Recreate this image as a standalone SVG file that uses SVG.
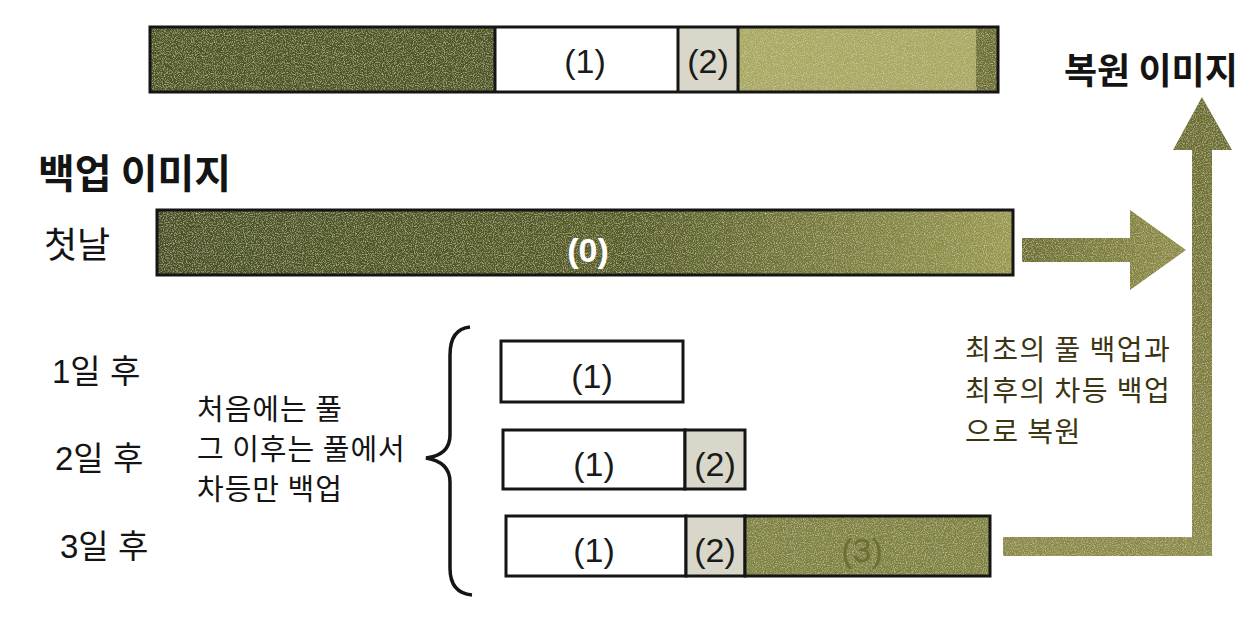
<svg xmlns="http://www.w3.org/2000/svg" width="1248" height="640" viewBox="0 0 1248 640">
<style>
.t{font-family:"Liberation Sans","Noto Sans CJK KR",sans-serif;fill:#141414}
.k{font-family:"Noto Sans CJK KR","Liberation Sans",sans-serif;fill:#141414}
.b{font-weight:bold}
.n{font-family:"Liberation Sans",sans-serif;font-size:34px;text-anchor:middle;fill:#1a1a1a}
.box{stroke:#151515;stroke-width:3}
.olive{font-family:"Noto Sans CJK KR",sans-serif;font-size:28px;fill:#3b3512;letter-spacing:1.5px}
.note{font-family:"Noto Sans CJK KR",sans-serif;font-size:29px;fill:#141414;letter-spacing:1px}
</style>
<defs>
<linearGradient id="gMid" x1="0" y1="0" x2="1" y2="0">
<stop offset="0" stop-color="#4a5020"/>
<stop offset="0.55" stop-color="#555b24"/>
<stop offset="1" stop-color="#999950"/>
</linearGradient>
<linearGradient id="gArr" x1="0" y1="0" x2="1" y2="0">
<stop offset="0" stop-color="#6d6e30"/>
<stop offset="1" stop-color="#8e8c48"/>
</linearGradient>
<linearGradient id="gUp" x1="0" y1="1" x2="0" y2="0">
<stop offset="0" stop-color="#8c8a48"/>
<stop offset="1" stop-color="#6a6b2e"/>
</linearGradient>
<filter id="grain" x="0" y="0" width="100%" height="100%">
<feTurbulence type="fractalNoise" baseFrequency="0.9" numOctaves="2" seed="3" result="n"/>
<feColorMatrix in="n" type="matrix" values="0 0 0 0 0.85  0 0 0 0 0.85  0 0 0 0 0.6  0 0 0 1.2 -0.55" result="s"/>
<feComposite in="s" in2="SourceGraphic" operator="in" result="m"/>
<feMerge><feMergeNode in="SourceGraphic"/><feMergeNode in="m"/></feMerge>
</filter>
</defs>

<g id="restore-bar">
<rect x="150" y="27" width="345" height="65" fill="#4f5423" filter="url(#grain)"/>
<rect x="495" y="27" width="183" height="65" fill="#ffffff"/>
<rect x="678" y="27" width="60" height="65" fill="#d9d7c9"/>
<rect x="738" y="27" width="238" height="65" fill="#a9a862" filter="url(#grain)"/>
<rect x="976" y="27" width="22" height="65" fill="#6d6f32" filter="url(#grain)"/>
<rect x="150" y="27" width="848" height="65" fill="none" class="box"/>
<line x1="495" y1="27" x2="495" y2="92" class="box"/>
<line x1="678" y1="27" x2="678" y2="92" class="box"/>
<line x1="738" y1="27" x2="738" y2="92" class="box"/>
<text x="585" y="73" class="n">(1)</text>
<text x="708" y="73" class="n">(2)</text>
</g>

<g id="restore-title">
<text x="1064" y="84" class="k b" font-size="36">복원 이미지</text>
</g>

<g id="backup-title">
<text x="38" y="188" class="k b" font-size="40">백업 이미지</text>
</g>

<g id="day0">
<text x="44" y="258" class="k" font-size="36">첫날</text>
<rect x="157" y="210" width="856" height="65" fill="url(#gMid)" filter="url(#grain)"/>
<rect x="157" y="210" width="856" height="65" fill="none" class="box"/>
<text x="588" y="262" class="n b" style="fill:#ffffff">(0)</text>
</g>

<g id="day1">
<text x="52" y="383" class="t" font-size="33">1일 후</text>
<rect x="501" y="341" width="182" height="61" fill="#ffffff" class="box"/>
<text x="592" y="388" class="n">(1)</text>
</g>

<g id="day2">
<text x="55" y="470" class="t" font-size="33">2일 후</text>
<rect x="503" y="430" width="182" height="59" fill="#ffffff" class="box"/>
<rect x="685" y="430" width="60" height="59" fill="#d9d7c9" class="box"/>
<text x="594" y="476" class="n">(1)</text>
<text x="715" y="476" class="n">(2)</text>
</g>

<g id="day3">
<text x="60" y="558" class="t" font-size="33">3일 후</text>
<rect x="506" y="516" width="180" height="60" fill="#ffffff" class="box"/>
<rect x="686" y="516" width="59" height="60" fill="#d9d7c9" class="box"/>
<rect x="745" y="516" width="245" height="60" fill="#7f8240" filter="url(#grain)"/>
<rect x="745" y="516" width="245" height="60" fill="none" class="box"/>
<text x="594" y="562" class="n">(1)</text>
<text x="715" y="562" class="n">(2)</text>
<text x="862" y="562" class="n" style="fill:#6c6e36">(3)</text>
</g>

<g id="note-left">
<text x="197" y="420" class="note">처음에는 풀</text>
<text x="197" y="460" class="note">그 이후는 풀에서</text>
<text x="197" y="500" class="note">차등만 백업</text>
</g>

<g id="note-right">
<text x="965" y="360" class="olive">최초의 풀 백업과</text>
<text x="965" y="401" class="olive">최후의 차등 백업</text>
<text x="965" y="442" class="olive">으로 복원</text>
</g>

<g id="connectors">
<path d="M470 327 Q450 329 450 355 L450 435 Q450 455 426 458 Q450 462 450 482 L450 568 Q450 593 472 595" fill="none" stroke="#151515" stroke-width="3.5"/>
<path d="M1022 238 L1130 238 L1130 210 L1186 250 L1130 290 L1130 262 L1022 262 Z" fill="url(#gArr)" filter="url(#grain)"/>
<path d="M1003 537 L1192 537 L1192 150 L1173 150 L1202 97 L1232 150 L1212 150 L1212 556 L1003 556 Z" fill="url(#gUp)" filter="url(#grain)"/>
</g>
</svg>
